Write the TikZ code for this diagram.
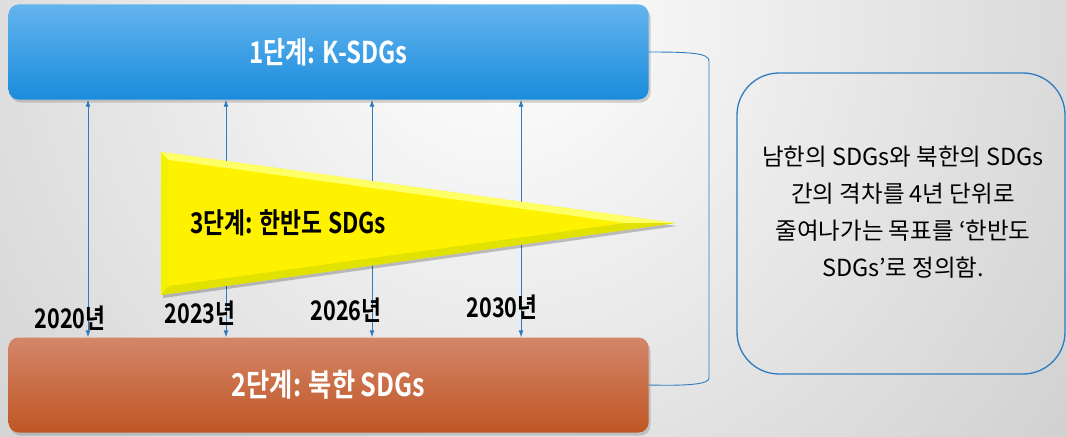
\documentclass[tikz,border=0pt]{standalone}
\usepackage{fontspec}
\usetikzlibrary{arrows.meta,shadows,calc}
\newfontfamily\krb[FakeStretch=0.8]{Noto Sans CJK KR Bold}
\newfontfamily\kr{Noto Sans CJK KR}
\definecolor{lineblue}{HTML}{2E7BC0}
\definecolor{btop}{HTML}{64B4EE}
\definecolor{bbot}{HTML}{1A8CDC}
\definecolor{otop}{HTML}{D4866A}
\definecolor{obot}{HTML}{BF5623}
\definecolor{ybevl}{HTML}{FFFF66}
\definecolor{ybevs}{HTML}{F2F200}
\definecolor{ybevd}{HTML}{E2E200}
\tikzset{
  stagebox/.style={rounded corners=10pt, minimum width=640pt, minimum height=95pt,
    text=white,
    drop shadow={shadow xshift=2pt, shadow yshift=-3pt, opacity=.35}},
  yearlbl/.style={font=\krb\fontsize{27}{30}\selectfont, text=black, inner sep=0pt},
  conn/.style={draw=lineblue, line width=0.9pt},
  dbl/.style={conn, {Latex[length=7pt,width=5pt]}-{Latex[length=7pt,width=5pt]}},
}
\begin{document}
\begin{tikzpicture}[x=1pt,y=-1pt]
\useasboundingbox (0,0) rectangle (1067,436);
\begin{scope}
  \clip (0,0) rectangle (1067,436);
  \shade[inner color=white, outer color=black!20] (500,20) circle (780);
\end{scope}
% stage boxes
\node[stagebox, top color=btop, bottom color=bbot, font=\krb\fontsize{30}{34}\selectfont] (top) at (328.5,52) {1단계: K-SDGs};
\node[stagebox, top color=otop, bottom color=obot, font=\krb\fontsize{31.5}{34}\selectfont] (bot) at (328.5,385) {2단계: 북한 SDGs};
% vertical double arrows
\foreach \n/\x in {a/88,b/226,c/372,d/521}{
  \coordinate (x\n) at (\x,0);
  \draw[dbl] (x\n |- top.south) -- (x\n |- bot.north);
}
% bracket
\draw[conn] (top.east) .. controls (690,52) and (709,53) .. (709,61) -- (709,378)
  .. controls (709,384) and (690,386) .. (bot.east);
% yellow triangle with bevel
\fill[black, opacity=.22] (163,155) -- (677,226) -- (163,298) -- cycle;
\fill[yellow] (161,152) -- (675,223) -- (161,295) -- cycle;
\fill[ybevl] (161,152) -- (675,223) -- (624,223) -- (168,160) -- cycle;
\fill[ybevs] (161,152) -- (168,160) -- (168,286) -- (161,295) -- cycle;
\fill[ybevd] (161,295) -- (168,286) -- (624,223) -- (675,223) -- cycle;
\fill[yellow] (168,160) -- (624,223) -- (168,286) -- cycle;
\node[font=\krb\fontsize{28.5}{32}\selectfont, anchor=west, inner sep=0pt] (third) at (190,223) {3단계: 한반도 SDGs};
% year labels
\node[yearlbl] (y20) at (70,318) {2020년};
\node[yearlbl] (y23) at (200,313) {2023년};
\node[yearlbl] (y26) at (346,310) {2026년};
\node[yearlbl] (y30) at (502,307) {2030년};
% description box
\node[draw=lineblue, line width=1.3pt, rounded corners=42pt, minimum width=328pt, minimum height=301pt] (desc) at (901,223.5) {};
\node[font=\kr\fontsize{23.5}{37}\selectfont, align=center, inner sep=0pt] (desctext) at (903,212)
  {남한의 SDGs와 북한의 SDGs\\간의 격차를 4년 단위로\\줄여나가는 목표를 ‘한반도\\SDGs’로 정의함.};
\end{tikzpicture}
\end{document}
